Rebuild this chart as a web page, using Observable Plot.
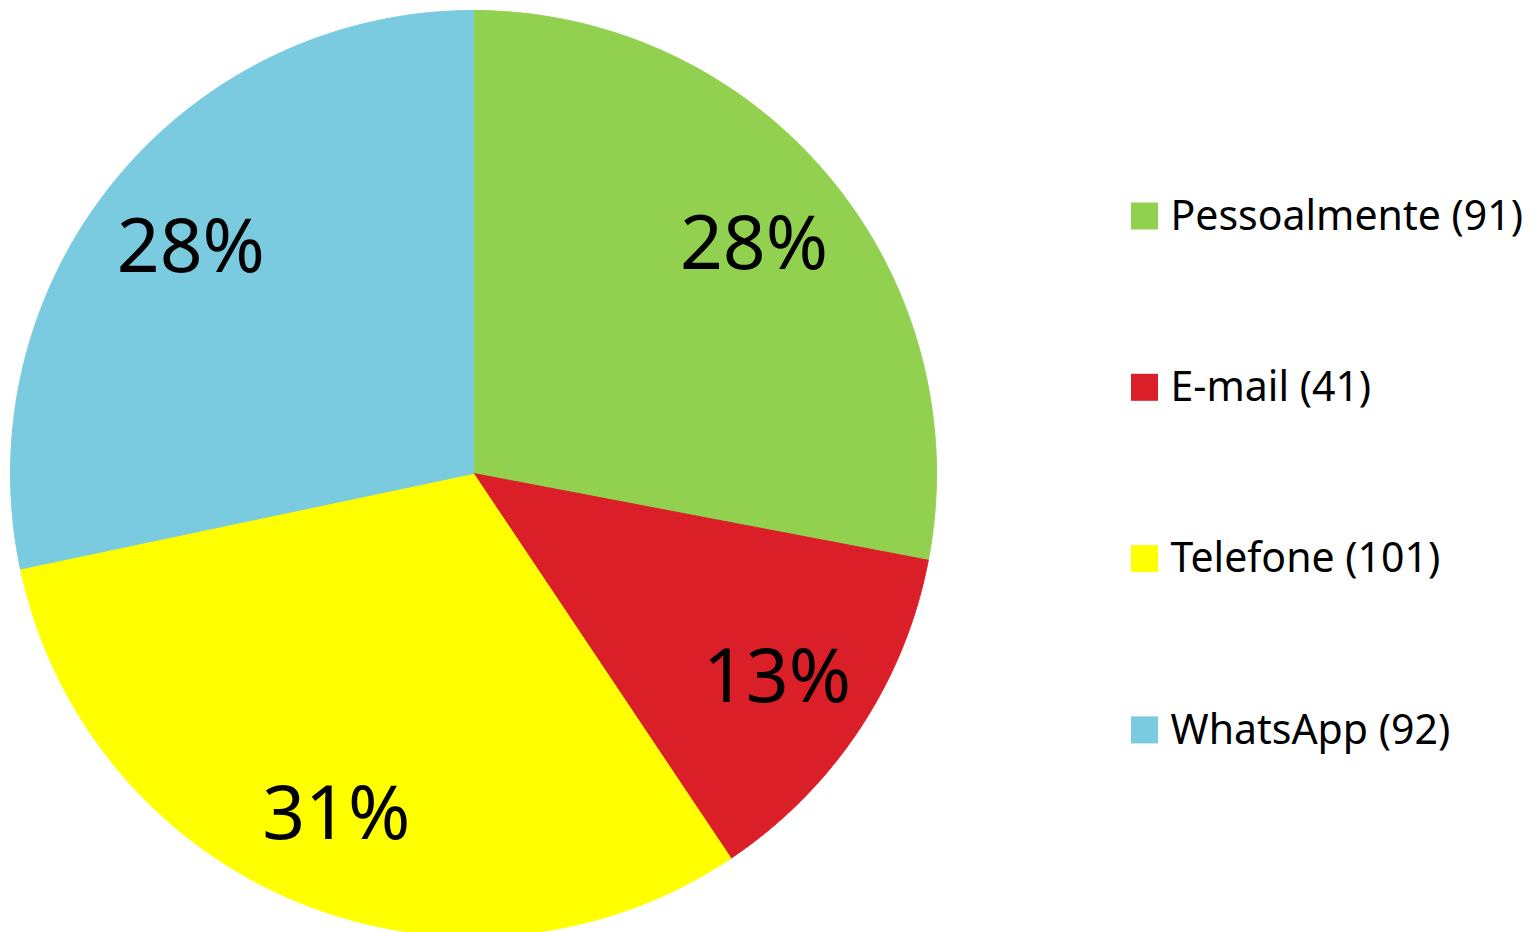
<!DOCTYPE html>
<html>
<head>
<meta charset="utf-8">
<script src="https://cdn.jsdelivr.net/npm/d3@7"></script>
<script src="https://cdn.jsdelivr.net/npm/@observablehq/plot@0.6"></script>
<style>
  html, body { margin: 0; padding: 0; background: #fff; }
  #chart svg { display: block; }
</style>
</head>
<body>
<div id="chart"></div>
<script>
const categories = ["Pessoalmente", "E-mail", "Telefone", "WhatsApp"];
const values = [91, 41, 101, 92];
const colors = ["#92D050", "#DA1F28", "#FFFF00", "#7ACBDF"];

const W = 1534, H = 932;
const cx = 473, cy = 473, R = 463, labelR = 364;
const FONT = "'Noto Sans', 'Open Sans', sans-serif";

const total = d3.sum(values);
const pie = d3.pie().sort(null).value(d => d.value);
const arcs = pie(categories.map((c, i) => ({category: c, value: values[i], color: colors[i]})));

// polygon points for each slice
const slices = arcs.map(a => {
  const pts = [{x: cx, y: cy}];
  const n = Math.max(2, Math.ceil((a.endAngle - a.startAngle) / 0.005));
  for (let k = 0; k <= n; k++) {
    const t = a.startAngle + (a.endAngle - a.startAngle) * k / n;
    pts.push({x: cx + R * Math.sin(t), y: cy - R * Math.cos(t)});
  }
  pts.push({x: cx, y: cy});
  return {color: a.data.color, pts};
});

const labels = arcs.map(a => {
  const m = (a.startAngle + a.endAngle) / 2;
  return {x: cx + labelR * Math.sin(m), y: cy - labelR * Math.cos(m),
          text: Math.round(a.data.value / total * 100) + "%"};
});

const legendX = 1131, legendSq = 27, legendY0 = 216, legendStep = 171.3;
const legend = categories.map((c, i) => ({
  category: c, value: values[i], color: colors[i], y: legendY0 + i * legendStep
}));

const marks = [];
for (const s of slices) {
  marks.push(Plot.line(s.pts, {x: "x", y: "y", fill: s.color, stroke: s.color, strokeWidth: 1, curve: "linear"}));
}
marks.push(Plot.text(labels, {x: "x", y: "y", text: "text", fill: "#000", fontSize: 75, dy: 4, textAnchor: "middle", lineAnchor: "middle", fontFamily: FONT}));
marks.push(Plot.rect(legend, {x1: () => legendX, x2: () => legendX + legendSq, y1: d => d.y - legendSq / 2, y2: d => d.y + legendSq / 2, fill: d => d.color}));
marks.push(Plot.text(legend, {x: () => legendX + 39, y: "y", text: d => `${d.category} (${d.value})`, fill: "#000", fontSize: 41, dy: 0, textAnchor: "start", lineAnchor: "middle", fontFamily: FONT}));

const chart = Plot.plot({
  width: W, height: H,
  margin: 0,
  x: {type: "linear", domain: [0, W], range: [0, W], axis: null},
  y: {type: "linear", domain: [0, H], range: [0, H], axis: null},
  color: {type: "identity"},
  style: {background: "#fff", overflow: "hidden"},
  marks
});
document.getElementById("chart").appendChild(chart);
</script>
</body>
</html>
